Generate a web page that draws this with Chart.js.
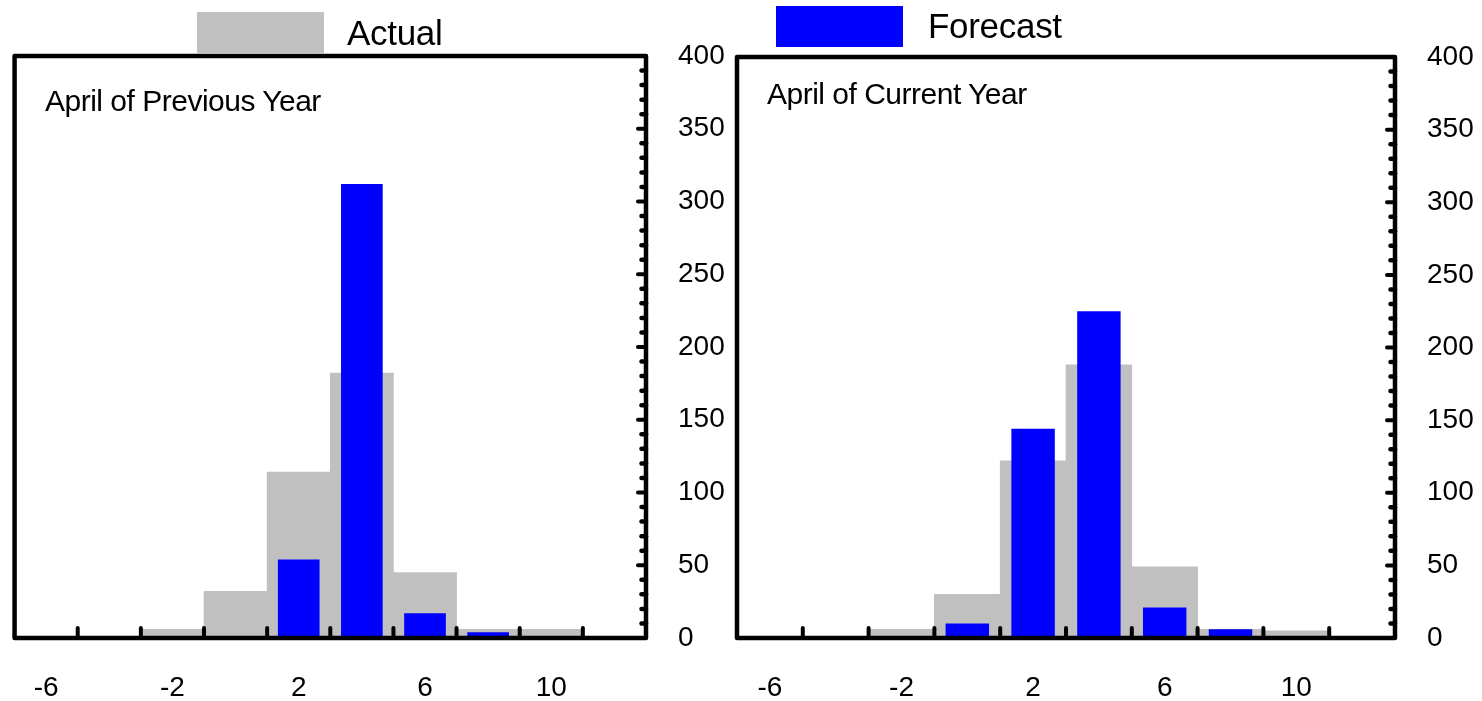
<!DOCTYPE html>
<html>
<head>
<meta charset="utf-8">
<title>April distributions: Actual vs Forecast</title>
<script src="https://cdn.jsdelivr.net/npm/chart.js@4/dist/chart.umd.min.js"></script>
<style>
  html, body { margin: 0; padding: 0; background: #ffffff; }
  body { width: 1482px; height: 701px; position: relative; overflow: hidden;
         font-family: "Liberation Sans", Arial, sans-serif; color: #000; }
  canvas { position: absolute; top: 0; }
  #leftChart { left: 0; }
  #rightChart { left: 723px; }
  .swatch { position: absolute; width: 127px; height: 41px; z-index: 2; }
  .label { position: absolute; white-space: nowrap; line-height: 1; z-index: 2; }
  .legend { font-size: 35px; letter-spacing: -0.3px; }
  .panel-title { font-size: 30px; letter-spacing: -0.5px; }
</style>
</head>
<body>
<canvas id="leftChart" width="741" height="701"></canvas>
<canvas id="rightChart" width="759" height="701"></canvas>

<div class="swatch" style="left:197px; top:12px; background:#C0C0C0;"></div>
<div class="label legend" style="left:347px; top:15px;">Actual</div>
<div class="swatch" style="left:776px; top:6px; background:#0000FF;"></div>
<div class="label legend" style="left:928px; top:8px;">Forecast</div>

<div class="label panel-title" style="left:45px; top:86px;">April of Previous Year</div>
<div class="label panel-title" style="left:767px; top:79px;">April of Current Year</div>

<script>
// Bin centres (percent); only every other bin is labelled on the axis.
const categories = ['-6', '-4', '-2', '0', '2', '4', '6', '8', '10', '12'];

// Counts per bin, April of previous year
const prevActual   = [0, 0, 6, 32, 114, 182, 45, 6, 6, 0];
const prevForecast = [0, 0, 0, 0, 54, 312, 17, 4, 0, 0];

// Counts per bin, April of current year
const currActual   = [0, 0, 6, 30, 122, 188, 49, 6, 5, 0];
const currForecast = [0, 0, 0, 10, 144, 225, 21, 6, 0, 0];

// Right-hand value axis
const yMin = 0;
const yMax = 400;
const yMajorStep = 50;
const yMinorStep = 10;

const FONT = '"Liberation Sans", Arial, sans-serif';
const GREY = '#C0C0C0';
const BLUE = '#0000FF';

// Box frame with inward tick marks: bin boundaries on the bottom edge,
// minor/major marks on the right edge.
const frameTicks = {
  id: 'frameTicks',
  afterDatasetsDraw(chart) {
    const { ctx, chartArea: a, scales } = chart;
    const xs = scales.x, ys = scales.y;
    ctx.save();
    ctx.strokeStyle = '#000';
    ctx.lineCap = 'round';
    ctx.lineWidth = 4;

    // bottom: ticks between neighbouring bins
    for (let i = 0; i < xs.ticks.length - 1; i++) {
      const px = (xs.getPixelForTick(i) + xs.getPixelForTick(i + 1)) / 2;
      ctx.beginPath();
      ctx.moveTo(px, a.bottom);
      ctx.lineTo(px, a.bottom - 10);
      ctx.stroke();
    }

    // right: minor every 10, longer major every 50
    for (let v = yMin + yMinorStep; v < yMax; v += yMinorStep) {
      const py = ys.getPixelForValue(v);
      const major = v % yMajorStep === 0;
      ctx.lineWidth = major ? 4 : 4.5;
      ctx.beginPath();
      ctx.moveTo(a.right, py);
      ctx.lineTo(a.right - (major ? 8 : 4.5), py);
      ctx.stroke();
    }

    // frame
    ctx.lineWidth = 4.5;
    ctx.lineJoin = 'round';
    ctx.strokeRect(a.left, a.top, a.right - a.left, a.bottom - a.top);
    ctx.restore();
  }
};

function makeChart(canvasId, actual, forecast, pad, axisWidth) {
  return new Chart(document.getElementById(canvasId), {
    type: 'bar',
    data: {
      labels: categories,
      datasets: [
        {
          label: 'Actual',
          data: actual,
          backgroundColor: GREY,
          borderWidth: 0,
          barPercentage: 1.0,
          categoryPercentage: 1.0,
          grouped: false,
          order: 2
        },
        {
          label: 'Forecast',
          data: forecast,
          backgroundColor: BLUE,
          borderWidth: 0,
          barPercentage: 0.66,
          categoryPercentage: 1.0,
          grouped: false,
          order: 1
        }
      ]
    },
    options: {
      responsive: false,
      devicePixelRatio: 1,
      animation: false,
      layout: { padding: { left: pad.left, top: pad.top, right: 0, bottom: 0 } },
      plugins: {
        legend: { display: false },
        tooltip: { enabled: false },
        title: { display: false }
      },
      scales: {
        x: {
          type: 'category',
          offset: true,
          grid: { display: false, drawTicks: false },
          border: { display: false },
          ticks: {
            autoSkip: false,
            maxRotation: 0,
            padding: 33,
            color: '#000',
            font: { family: FONT, size: 28 },
            callback: (value, index) => (index % 2 === 0 ? categories[index] : '')
          },
          afterFit: (scale) => { scale.height = 63; }
        },
        y: {
          position: 'right',
          min: yMin,
          max: yMax,
          grid: { display: false, drawTicks: false },
          border: { display: false },
          ticks: {
            stepSize: yMajorStep,
            padding: 32,
            color: '#000',
            font: { family: FONT, size: 28 }
          },
          afterFit: (scale) => { scale.width = axisWidth; }
        }
      }
    },
    plugins: [frameTicks]
  });
}

makeChart('leftChart', prevActual, prevForecast, { left: 14, top: 56 }, 95);
makeChart('rightChart', currActual, currForecast, { left: 14, top: 57 }, 87);
</script>
</body>
</html>
